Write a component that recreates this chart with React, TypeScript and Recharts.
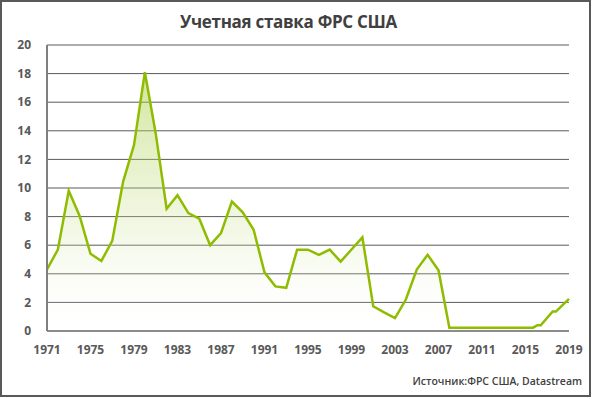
import React from 'react';
import { AreaChart, Area, XAxis, YAxis, CartesianGrid } from 'recharts';

const years = [
  1971, 1972, 1973, 1974, 1975, 1976, 1977, 1978, 1979, 1980,
  1981, 1982, 1983, 1984, 1985, 1986, 1987, 1988, 1989, 1990,
  1991, 1992, 1993, 1994, 1995, 1996, 1997, 1998, 1999, 2000,
  2001, 2002, 2003, 2004, 2005, 2006, 2007, 2008, 2015.7,
  2016.1, 2016.4, 2017.5, 2017.8, 2019,
];

const rates = [
  4.3, 5.7, 9.8, 8.05, 5.4, 4.9, 6.3, 10.45, 13.0, 18.1,
  13.8, 8.55, 9.5, 8.25, 7.85, 6.0, 6.85, 9.05, 8.3, 7.08,
  4.1, 3.12, 3.02, 5.69, 5.69, 5.32, 5.69, 4.85, 5.7, 6.55,
  1.73, 1.3, 0.9, 2.2, 4.3, 5.33, 4.24, 0.23, 0.23,
  0.4, 0.4, 1.36, 1.36, 2.25,
];

const xTicks = [1971, 1975, 1979, 1983, 1987, 1991, 1995, 1999, 2003, 2007, 2011, 2015, 2019];
const yTicks = [0, 2, 4, 6, 8, 10, 12, 14, 16, 18, 20];

const title = 'Учетная ставка ФРС США';
const source = 'Источник:ФРС США, Datastream';

const data = years.map((year, i) => ({ year, rate: rates[i] }));

const font = '"Open Sans", sans-serif';
const tickStyle = { fontFamily: font, fontSize: 12, fontWeight: 700, fill: '#595959' };

export default function App() {
  return (
    <div
      style={{
        position: 'absolute',
        left: 0,
        top: 0,
        width: 593,
        height: 399,
        background: '#fff',
      }}
    >
      <div
        style={{
          position: 'absolute',
          left: 0,
          top: 0,
          width: 591,
          height: 397,
          border: '2px solid #595959',
          boxSizing: 'border-box',
        }}
      />
      <div
        style={{
          position: 'absolute',
          left: 0,
          top: 10,
          width: 577,
          textAlign: 'center',
          fontFamily: font,
          fontWeight: 700,
          fontSize: 17,
          color: '#404040',
          letterSpacing: -0.3,
        }}
      >
        {title}
      </div>
      <AreaChart
        width={593}
        height={399}
        data={data}
        margin={{ top: 45, right: 24, left: 0, bottom: 38 }}
      >
        <defs>
          <linearGradient id="fillGreen" x1="0" y1="0" x2="0" y2="1">
            <stop offset="0%" stopColor="#a6cc3e" stopOpacity={0.85} />
            <stop offset="60%" stopColor="#cfe39a" stopOpacity={0.45} />
            <stop offset="100%" stopColor="#ffffff" stopOpacity={0.1} />
          </linearGradient>
        </defs>
        <CartesianGrid yAxisId="left" vertical={false} stroke="#5a5a5a" strokeWidth={1} />
        <XAxis
          dataKey="year"
          type="number"
          domain={[1971, 2019]}
          ticks={xTicks}
          tick={tickStyle}
          tickLine={false}
          tickSize={0}
          tickMargin={14}
          axisLine={{ stroke: '#8c8c8c', strokeWidth: 2 }}
          height={30}
          interval={0}
        />
        <YAxis
          yAxisId="left"
          domain={[0, 20]}
          ticks={yTicks}
          tick={tickStyle}
          tickLine={false}
          tickSize={0}
          tickMargin={16}
          axisLine={{ stroke: '#7f7f7f', strokeWidth: 2 }}
          width={47}
          interval={0}
        />
        <YAxis
          yAxisId="right"
          orientation="right"
          domain={[0, 20]}
          tick={false}
          tickLine={false}
          axisLine={{ stroke: '#7f7f7f', strokeWidth: 1.5 }}
          width={0}
        />
        <Area
          yAxisId="left"
          type="linear"
          dataKey="rate"
          stroke="#8fbc00"
          strokeWidth={2.5}
          fill="url(#fillGreen)"
          dot={false}
          activeDot={false}
          isAnimationActive={false}
        />
      </AreaChart>
      <div
        style={{
          position: 'absolute',
          left: 0,
          top: 374,
          width: 582,
          textAlign: 'right',
          fontFamily: font,
          fontWeight: 600,
          fontSize: 10.5,
          color: '#404040',
        }}
      >
        {source}
      </div>
    </div>
  );
}
